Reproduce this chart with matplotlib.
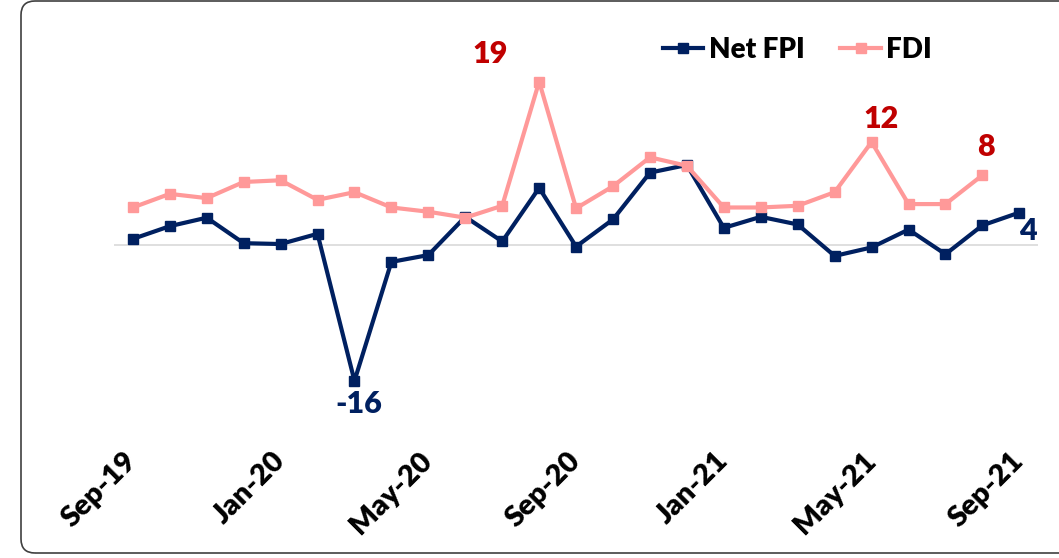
import numpy as np
import matplotlib.pyplot as plt
from matplotlib.patches import FancyBboxPatch
from matplotlib.transforms import IdentityTransform

plt.rcParams['font.family'] = ['Lato', 'DejaVu Sans']
plt.rcParams['font.weight'] = 'heavy'

# monthly flows, Sep-19 .. Sep-21
months = ['Sep-19', 'Oct-19', 'Nov-19', 'Dec-19', 'Jan-20', 'Feb-20', 'Mar-20',
          'Apr-20', 'May-20', 'Jun-20', 'Jul-20', 'Aug-20', 'Sep-20', 'Oct-20',
          'Nov-20', 'Dec-20', 'Jan-21', 'Feb-21', 'Mar-21', 'Apr-21', 'May-21',
          'Jun-21', 'Jul-21', 'Aug-21', 'Sep-21']
net_fpi = [0.7, 2.2, 3.2, 0.2, 0.1, 1.3, -16.0, -2.0, -1.2, 3.3, 0.4, 6.7, -0.2,
           3.0, 8.5, 9.4, 2.0, 3.3, 2.4, -1.3, -0.3, 1.8, -1.1, 2.3, 3.8]
fdi = [4.4, 6.0, 5.5, 7.4, 7.6, 5.3, 6.2, 4.4, 3.9, 3.2, 4.6, 19.2, 4.3,
       6.9, 10.3, 9.3, 4.4, 4.4, 4.6, 6.2, 12.1, 4.8, 4.8, 8.2]
tick_idx = [0, 4, 8, 12, 16, 20, 24]

navy = '#002060'
pink = '#FF9999'
red = '#C00000'

fig = plt.figure(figsize=(10.59, 5.58), dpi=100)
ax = fig.add_axes([0.108, 0.226, 0.872, 0.716])

x = np.arange(len(months))
ax.plot(x, net_fpi, color=navy, lw=3, marker='s', ms=6.5, label='Net FPI', zorder=3)
ax.plot(x[:len(fdi)], fdi, color=pink, lw=3, marker='s', ms=6.5, label='FDI', zorder=3)
ax.axhline(0, color='#D9D9D9', lw=1.2, zorder=1)

ax.set_xlim(-0.5, len(months) - 0.5)
ax.set_ylim(-22, 25)
for s in ax.spines.values():
    s.set_visible(False)
ax.set_yticks([])
ax.set_xticks(tick_idx)
ax.set_xticklabels([months[i] for i in tick_idx], rotation=45, ha='right',
                   va='center', rotation_mode='anchor', fontsize=21, fontweight='heavy')
ax.tick_params(axis='x', length=0, pad=18)

def px(v):
    return v * 72 / 100

labels = [
    (11, fdi[11], '19', red, -49, 28),
    (20, fdi[20], '12', red, 9, 23),
    (23, fdi[23], '8', red, 4, 28),
    (6, net_fpi[6], '-16', navy, 4, -23),
    (24, net_fpi[24], '4', navy, 9, -18),
]
for i, v, t, c, dx, dy in labels:
    ax.annotate(t, xy=(i, v), xytext=(px(dx), px(dy)), textcoords='offset points',
                ha='center', va='center', color=c, fontsize=22, fontweight='heavy')

fig.legend(loc='center', bbox_to_anchor=(0.753, 0.91), ncol=2, frameon=False,
           prop={'size': 20, 'weight': 'heavy'}, handlelength=1.45,
           columnspacing=1.3, handletextpad=0.2)

# rounded outer frame (right side cut off like the source)
frame = FancyBboxPatch((21, 5), 1100, 552, boxstyle='round,pad=0,rounding_size=14',
                       transform=IdentityTransform(), fill=False,
                       edgecolor='#404040', lw=1.2)
fig.patches.append(frame)

fig.savefig('out.png', dpi=100)
